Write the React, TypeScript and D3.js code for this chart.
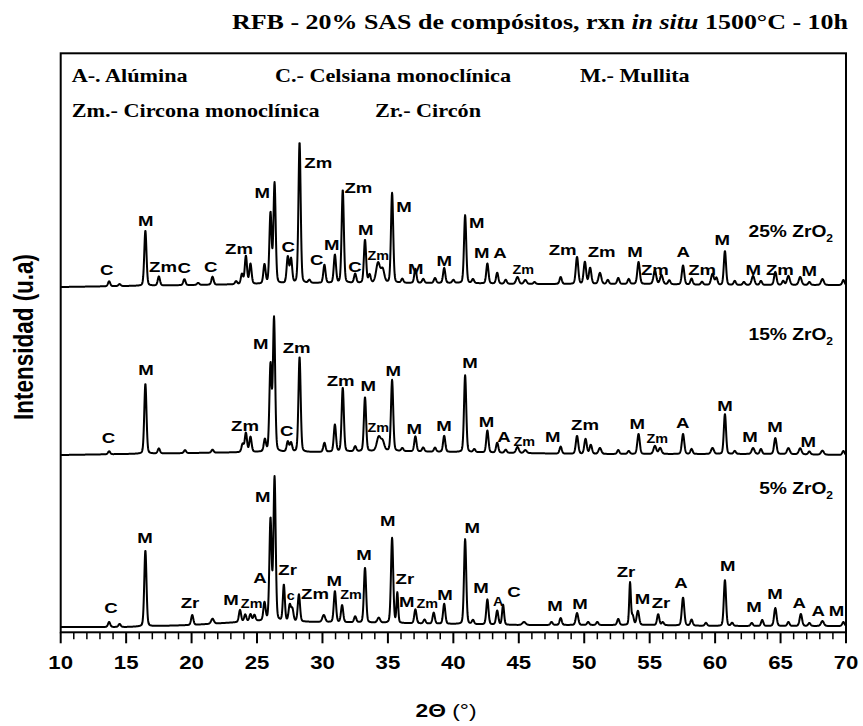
import React from "react";
import * as d3 from "d3";

// ---------- DATA ----------
// Peaks: [2θ position (°), intensity above background (a.u.), FWHM (°)]
const peaks25: [number, number, number][] = [
  [13.7, 5, 0.2], [14.5, 2, 0.2], [16.47, 55, 0.2], [17.5, 9, 0.2], [19.45, 6, 0.2],
  [20.5, 2, 0.2], [21.6, 8, 0.2], [23.4, 3, 0.2], [23.85, 10, 0.2], [24.15, 28, 0.2],
  [24.5, 20, 0.2], [25.57, 19, 0.2], [26.03, 70, 0.2], [26.34, 100, 0.2], [27.35, 26, 0.2],
  [27.6, 24, 0.2], [28.25, 141, 0.2], [29.0, 3, 0.2], [30.15, 18, 0.2], [30.95, 28, 0.2],
  [31.55, 93, 0.2], [32.5, 9, 0.2], [33.25, 43, 0.2], [33.6, 8, 0.2], [34.25, 20, 0.35],
  [34.6, 13, 0.3], [35.32, 90, 0.2], [36.1, 4, 0.2], [37.1, 14, 0.2], [37.7, 4, 0.2],
  [38.6, 5, 0.2], [39.3, 15, 0.2], [40.0, 3, 0.2], [40.9, 68, 0.2], [41.5, 4, 0.2],
  [42.6, 20, 0.2], [43.35, 11, 0.2], [44.0, 4, 0.2], [44.9, 7, 0.25], [45.5, 4, 0.25],
  [46.2, 2, 0.2], [48.2, 7, 0.2], [49.45, 27, 0.22], [50.05, 22, 0.22], [50.45, 16, 0.22],
  [51.2, 11, 0.25], [51.8, 4, 0.2], [52.6, 6, 0.2], [53.4, 5, 0.2], [54.15, 22, 0.22],
  [55.4, 13, 0.25], [55.9, 9, 0.25], [56.5, 4, 0.2], [57.55, 19, 0.22], [58.2, 6, 0.2],
  [59.0, 3, 0.2], [59.8, 11, 0.25], [60.1, 7, 0.2], [60.75, 34, 0.2], [61.5, 4, 0.2],
  [62.2, 3, 0.2], [62.9, 9, 0.25], [63.5, 4, 0.2], [64.6, 13, 0.22], [65.2, 4, 0.2],
  [65.6, 9, 0.25], [66.5, 8, 0.25], [67.2, 3, 0.2], [68.2, 6, 0.25], [69.8, 5, 0.2],
];
const peaks15: [number, number, number][] = [
  [13.7, 3, 0.2], [16.47, 70, 0.2], [17.5, 5, 0.2], [19.5, 3, 0.2], [21.6, 3, 0.2],
  [23.9, 8, 0.2], [24.15, 19, 0.2], [24.5, 15, 0.2], [25.6, 12, 0.2], [26.03, 86, 0.2],
  [26.3, 133, 0.2], [27.35, 10, 0.2], [27.6, 9, 0.2], [28.25, 95, 0.2], [30.15, 9, 0.2],
  [30.95, 27, 0.2], [31.55, 64, 0.2], [32.5, 5, 0.2], [33.25, 54, 0.2], [34.3, 14, 0.35],
  [34.6, 9, 0.3], [35.32, 71, 0.2], [36.1, 3, 0.2], [37.1, 15, 0.2], [37.7, 4, 0.2],
  [38.6, 4, 0.2], [39.3, 16, 0.2], [40.9, 77, 0.2], [41.6, 3, 0.2], [42.6, 22, 0.2],
  [43.35, 10, 0.2], [44.0, 3, 0.2], [44.9, 6, 0.25], [45.5, 3, 0.25], [48.2, 7, 0.2],
  [49.45, 18, 0.22], [50.1, 15, 0.22], [50.5, 9, 0.22], [51.2, 6, 0.25], [52.6, 4, 0.2],
  [53.4, 3, 0.2], [54.15, 20, 0.22], [55.4, 8, 0.25], [55.8, 6, 0.25], [57.55, 20, 0.22],
  [58.2, 5, 0.2], [59.8, 6, 0.25], [60.75, 40, 0.2], [61.5, 3, 0.2], [62.9, 6, 0.25],
  [63.5, 5, 0.2], [64.6, 16, 0.22], [65.6, 6, 0.25], [66.5, 6, 0.25], [67.2, 3, 0.2],
  [68.2, 4, 0.25], [69.8, 4, 0.2],
];
const peaks5: [number, number, number][] = [
  [13.7, 5, 0.2], [14.5, 3, 0.2], [16.47, 76, 0.2], [20.05, 10, 0.2], [21.6, 5, 0.25],
  [23.7, 12, 0.2], [24.1, 7, 0.2], [24.5, 7, 0.2], [24.8, 6, 0.2], [25.57, 18, 0.2],
  [26.03, 101, 0.2], [26.34, 143, 0.2], [27.05, 36, 0.18], [27.5, 16, 0.2], [27.7, 12, 0.2],
  [28.2, 27, 0.2], [30.1, 7, 0.25], [30.95, 31, 0.2], [31.5, 17, 0.2], [32.5, 6, 0.2],
  [33.25, 55, 0.2], [34.3, 5, 0.25], [35.32, 85, 0.2], [35.72, 30, 0.15], [37.1, 14, 0.2],
  [37.8, 4, 0.2], [38.5, 11, 0.2], [39.3, 20, 0.2], [40.9, 85, 0.2], [41.5, 4, 0.2],
  [42.6, 25, 0.2], [43.35, 14, 0.2], [43.8, 20, 0.18], [45.4, 3, 0.3], [47.5, 3, 0.2],
  [48.2, 7, 0.2], [49.45, 12, 0.22], [50.3, 3, 0.2], [51.0, 3, 0.2], [52.6, 6, 0.2],
  [53.5, 42, 0.15], [53.7, 9, 0.2], [54.1, 14, 0.22], [55.65, 11, 0.2], [56.0, 3, 0.2],
  [57.55, 28, 0.22], [58.2, 6, 0.2], [59.3, 3, 0.2], [60.75, 46, 0.2], [61.3, 3, 0.2],
  [62.8, 3, 0.2], [63.6, 6, 0.2], [64.6, 18, 0.22], [65.6, 4, 0.2], [66.55, 12, 0.22],
  [67.2, 3, 0.2], [68.2, 5, 0.25], [69.8, 4, 0.2],
];

// Background level every 5° from 10° to 70°
const bgAngles = [10, 15, 20, 25, 30, 35, 40, 45, 50, 55, 60, 65, 70];
const bg25 = [0, 1, 2, 3, 4, 4, 4, 3, 3, 3, 2, 2, 2];
const bg15 = [0, 1, 2, 3, 3, 4, 3, 2, 1, 1, 1, 1, 0];
const bg5 = [0, 0, 2, 6, 5, 4, 3, 2, 2, 2, 1, 1, 1];

// Vertical offsets of the stacked patterns
const offsets = { p25: 340, p15: 172, p5: 0 };

// Phase labels: [text, 2θ, height above pattern baseline, size (1 normal, 0 small)]
const labels25: [string, number, number, number][] = [
  ["C", 13.51, 17, 1], ["M", 16.49, 66, 1], ["Zm", 17.82, 20, 1], ["C", 19.44, 19, 1],
  ["C", 21.46, 20, 1], ["Zm", 23.62, 38, 1], ["M", 25.4, 94, 1], ["C", 27.39, 40, 1],
  ["Zm", 29.68, 124, 1], ["C", 29.56, 27, 1], ["M", 30.7, 42, 1], ["Zm", 32.74, 99, 1],
  ["M", 33.3, 57, 1], ["C", 32.48, 20, 1], ["Zm", 34.26, 31, 0], ["M", 36.23, 80, 1],
  ["M", 37.12, 18, 1], ["M", 39.31, 26, 1], ["M", 41.78, 64, 1], ["M", 42.16, 34, 1],
  ["A", 43.56, 34, 1], ["Zm", 45.34, 17, 0], ["Zm", 48.35, 37, 1], ["Zm", 51.33, 35, 1],
  ["M", 53.87, 35, 1], ["Zm", 55.4, 17, 1], ["A", 57.56, 35, 1], ["Zm", 59.01, 17, 1],
  ["M", 60.54, 47, 1], ["M", 62.91, 17, 1], ["Zm", 64.95, 17, 1], ["M", 67.19, 16, 1],
];
const labels15: [string, number, number, number][] = [
  ["C", 13.64, 17, 1], ["M", 16.52, 85, 1], ["Zm", 24.08, 29, 1], ["M", 25.28, 111, 1],
  ["C", 27.27, 24, 1], ["Zm", 28.03, 107, 1], ["Zm", 31.39, 74, 1], ["M", 33.5, 69, 1],
  ["Zm", 34.26, 27, 0], ["M", 35.41, 84, 1], ["M", 37.01, 26, 1], ["M", 39.28, 29, 1],
  ["M", 41.27, 92, 1], ["M", 42.54, 33, 1], ["A", 43.86, 18, 1], ["Zm", 45.42, 13, 0],
  ["M", 47.59, 18, 1], ["Zm", 50.06, 30, 1], ["M", 54.05, 31, 1], ["Zm", 55.58, 16, 0],
  ["A", 57.52, 32, 1], ["M", 60.75, 49, 1], ["M", 62.66, 18, 1], ["M", 64.57, 28, 1],
  ["M", 67.11, 13, 1],
];
const labels5: [string, number, number, number][] = [
  ["C", 13.84, 19, 1], ["M", 16.44, 89, 1], ["Zr", 19.88, 24, 1], ["M", 23.01, 27, 1],
  ["Zm", 24.59, 23, 0], ["A", 25.23, 49, 1], ["M", 25.43, 130, 1], ["Zr", 27.34, 57, 1],
  ["c", 27.57, 31, 0], ["Zm", 29.43, 33, 1], ["M", 30.9, 46, 1], ["Zm", 32.18, 32, 0],
  ["M", 33.17, 72, 1], ["M", 34.98, 106, 1], ["Zr", 36.3, 48, 1], ["M", 36.43, 25, 1],
  ["Zm", 38.01, 23, 0], ["M", 39.36, 32, 1], ["M", 41.44, 99, 1], ["M", 42.11, 39, 1],
  ["A", 43.43, 25, 0], ["C", 44.63, 35, 1], ["M", 47.76, 21, 1], ["M", 49.67, 23, 1],
  ["Zr", 53.19, 55, 1], ["M", 54.46, 28, 1], ["Zr", 55.86, 24, 1], ["A", 57.39, 44, 1],
  ["M", 60.96, 61, 1], ["M", 62.97, 20, 1], ["M", 64.57, 33, 1], ["A", 66.43, 24, 1],
  ["A", 67.88, 16, 1], ["M", 69.28, 16, 1],
];

const sampleNames = ["25% ZrO", "15% ZrO", "5% ZrO"];
const sampleLabelHeights = [55, 120, 138];
const legendRow1 = ["A-. Alúmina", "C.- Celsiana monoclínica", "M.- Mullita"];
const legendRow2 = ["Zm.- Circona monoclínica", "Zr.- Circón"];
const xMajorTicks = [10, 15, 20, 25, 30, 35, 40, 45, 50, 55, 60, 65, 70];

// ---------- LAYOUT ----------
const W = 863;
const H = 726;
const L = 60.7, R = 846, T = 53.3, B = 632.3;
const SX = 1.2; // horizontal stretch of the lettering in the reference

const x = d3.scaleLinear().domain([10, 70]).range([L, R]);
const y = d3.scaleLinear().domain([-5.3, 573.7]).range([B, T]);

function profileAt(tt: number, peaks: [number, number, number][], bg: number[]) {
  let v = d3.scaleLinear().domain(bgAngles).range(bg)(tt);
  for (const [p, h, w] of peaks) {
    const d = (tt - p) / w;
    if (Math.abs(d) > 12) continue;
    const g = Math.exp(-4 * Math.LN2 * d * d);
    const lz = 1 / (1 + 4 * d * d);
    v += h * (0.8 * g + 0.2 * lz);
  }
  return v;
}

const angles = d3.range(10, 70.0001, 0.02);

function pathFor(peaks: [number, number, number][], bg: number[], off: number) {
  const line = d3
    .line<number>()
    .x((a) => x(a))
    .y((a) => y(off + profileAt(a, peaks, bg)));
  return line(angles) || "";
}

const SANS = "Arial, 'Liberation Sans', Helvetica, sans-serif";
const SERIF = "'Times New Roman', 'Liberation Serif', serif";

function ST({
  x0, y0, anchor = "start", size, family, weight = "bold", children, baseline = "auto",
}: {
  x0: number; y0: number; anchor?: string; size: number; family: string; weight?: string;
  children: React.ReactNode; baseline?: string;
}) {
  return (
    <g transform={`translate(${x0},${y0}) scale(${SX},1)`}>
      <text
        x={0}
        y={0}
        textAnchor={anchor as any}
        dominantBaseline={baseline as any}
        fontFamily={family}
        fontWeight={weight}
        fontSize={size}
        fill="#000"
      >
        {children}
      </text>
    </g>
  );
}

function PhaseLabels({ items, off }: { items: [string, number, number, number][]; off: number }) {
  return (
    <g>
      {items.map(([t, a, h, s], i) => (
        <ST key={i} x0={x(a)} y0={y(off + h)} anchor="middle" baseline="central" size={s ? 15.5 : 12} family={SANS}>
          {t}
        </ST>
      ))}
    </g>
  );
}

export default function App() {
  const offs = [offsets.p25, offsets.p15, offsets.p5];
  const minorTicks = d3.range(10, 71, 1);
  return (
    <svg width={W} height={H} style={{ display: "block", position: "absolute", left: 0, top: 0, background: "#fff" }}>
      <rect x={0} y={0} width={W} height={H} fill="#fff" />
      {/* Title */}
      <text
        x={540}
        y={29}
        textAnchor="middle"
        fontFamily={SERIF}
        fontWeight="bold"
        fontSize={22}
        textLength={616}
        lengthAdjust="spacingAndGlyphs"
      >
        RFB - 20% SAS de compósitos, rxn <tspan fontStyle="italic">in situ</tspan> 1500°C - 10h
      </text>

      {/* Patterns */}
      <path d={pathFor(peaks25, bg25, offsets.p25)} fill="none" stroke="#000" strokeWidth={2} strokeLinejoin="round" />
      <path d={pathFor(peaks15, bg15, offsets.p15)} fill="none" stroke="#000" strokeWidth={2} strokeLinejoin="round" />
      <path d={pathFor(peaks5, bg5, offsets.p5)} fill="none" stroke="#000" strokeWidth={2} strokeLinejoin="round" />

      <PhaseLabels items={labels25} off={offsets.p25} />
      <PhaseLabels items={labels15} off={offsets.p15} />
      <PhaseLabels items={labels5} off={offsets.p5} />

      {/* Sample names */}
      {sampleNames.map((n, i) => (
        <ST key={n} x0={833} y0={y(offs[i] + sampleLabelHeights[i])} anchor="end" baseline="central" size={16} family={SANS}>
          {n}
          <tspan fontSize={10} dy={6}>2</tspan>
        </ST>
      ))}

      {/* Legend */}
      <ST x0={71.7} y0={82} size={18.5} family={SERIF}>{legendRow1[0]}</ST>
      <ST x0={275} y0={82} size={18.5} family={SERIF}>{legendRow1[1]}</ST>
      <ST x0={580} y0={82} size={18.5} family={SERIF}>{legendRow1[2]}</ST>
      <ST x0={71.7} y0={117} size={18.5} family={SERIF}>{legendRow2[0]}</ST>
      <ST x0={375} y0={117} size={18.5} family={SERIF}>{legendRow2[1]}</ST>

      {/* Frame */}
      <rect x={L} y={T} width={R - L} height={B - T} fill="none" stroke="#000" strokeWidth={2} />

      {/* X axis ticks */}
      {minorTicks.map((t) => (
        <line
          key={t}
          x1={x(t)}
          x2={x(t)}
          y1={B}
          y2={B + (t % 5 === 0 ? 11 : 7)}
          stroke="#000"
          strokeWidth={t % 5 === 0 ? 2 : 1.5}
        />
      ))}
      {xMajorTicks.map((t) => (
        <ST key={t} x0={x(t)} y0={663} anchor="middle" baseline="central" size={18.5} family={SANS}>
          {t}
        </ST>
      ))}

      {/* Axis titles */}
      <ST x0={446} y0={710} anchor="middle" baseline="central" size={19} family={SANS} weight="normal">
        <tspan fontWeight="bold">2Θ</tspan>
        <tspan> (°)</tspan>
      </ST>
      <g transform={`translate(24, 337) rotate(-90) scale(1, ${SX})`}>
        <text
          x={0}
          y={0}
          textAnchor="middle"
          dominantBaseline="central"
          fontFamily={SANS}
          fontWeight="bold"
          fontSize={22.5}
        >
          Intensidad (u.a)
        </text>
      </g>
    </svg>
  );
}
